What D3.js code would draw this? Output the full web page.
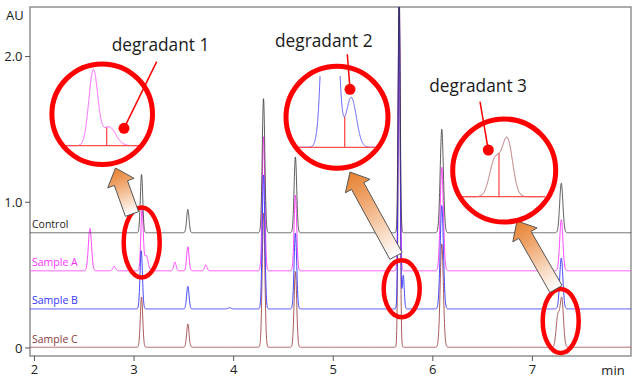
<!DOCTYPE html>
<html><head><meta charset="utf-8">
<script src="https://cdn.jsdelivr.net/npm/d3@7/dist/d3.min.js"></script>
<style>
html,body{margin:0;padding:0;background:#fff;}
svg{display:block;font-family:"Open Sans","Noto Sans",sans-serif;}
</style></head>
<body>
<svg id="chart" width="640" height="380"></svg>
<script>
// ---------------- DATA ----------------
const traceNames   = ["Control", "Sample A", "Sample B", "Sample C"];
const traceOffsets = [0.791, 0.53, 0.268, 0.005];           // AU baseline offsets
// peak tables: [retention time (min), height (AU), sigma (min)]
const controlPeaks = [[3.075,0.40,0.012],[3.54,0.16,0.012],[4.30,0.92,0.013],[4.62,0.52,0.013],
                      [5.662,1.70,0.010],[6.09,0.71,0.016],[7.29,0.34,0.016]];
const sampleAPeaks = [[2.557,0.29,0.016],[2.80,0.03,0.014],[3.08,0.42,0.012],[3.122,0.105,0.018],
                      [3.41,0.06,0.012],[3.54,0.165,0.012],[3.72,0.04,0.012],[4.30,0.92,0.013],
                      [4.62,0.52,0.013],[5.662,1.90,0.010],[6.09,0.71,0.016],[7.29,0.35,0.016]];
const sampleBPeaks = [[3.072,0.40,0.012],[3.54,0.155,0.012],[3.96,0.008,0.015],[4.30,0.92,0.013],
                      [4.62,0.52,0.013],[5.662,2.10,0.010],[5.703,0.23,0.010],[6.09,0.71,0.016],
                      [7.29,0.35,0.016]];
const sampleCPeaks = [[3.075,0.345,0.012],[3.54,0.16,0.012],[4.30,0.92,0.013],[4.62,0.52,0.013],
                      [5.662,2.30,0.010],[6.09,0.71,0.016],[7.255,0.21,0.017],[7.295,0.33,0.017]];
const tracePeaks   = [controlPeaks, sampleAPeaks, sampleBPeaks, sampleCPeaks];
const xTicks       = [2, 3, 4, 5, 6, 7];
const yTicks       = [0, 1, 2];
const yTickLabels  = ["0", "1.0", "2.0"];
const degradantLabels = ["degradant 1", "degradant 2", "degradant 3"];

// ---------------- STYLE / LAYOUT ----------------
const traceColors = ["#333333", "#ff33ff", "#3333ff", "#a04848"];
const labelColors = ["#222222", "#ff33ff", "#3333ff", "#8b3a3a"];
const RED = "#ff0000";
const svg = d3.select("#chart");
const x = d3.scaleLinear().domain([1.955, 7.99]).range([30, 631]);
const y = d3.scaleLinear().domain([-0.055, 2.34]).range([356, 7]);

function signal(peaks, t) {
  let s = 0;
  for (const [p, h, w] of peaks) { const d = t - p; s += h * Math.exp(-d * d / (2 * w * w)); }
  return s;
}

const defs = svg.append("defs");
defs.append("clipPath").attr("id", "plotClip").append("rect")
  .attr("x", 30).attr("y", 7).attr("width", 601).attr("height", 349);

// frame
svg.append("rect").attr("x", 30).attr("y", 7).attr("width", 601).attr("height", 349)
  .attr("fill", "none").attr("stroke", "#808080").attr("stroke-width", 1.3);

// axes ticks
const axG = svg.append("g").attr("font-size", 13).attr("fill", "#222");
yTicks.forEach((v, i) => {
  axG.append("line").attr("x1", 25).attr("x2", 30).attr("y1", y(v)).attr("y2", y(v))
    .attr("stroke", "#555").attr("stroke-width", 1);
  axG.append("text").attr("x", 22.5).attr("y", y(v)).attr("dy", "0.36em")
    .attr("text-anchor", "end").text(yTickLabels[i]);
});
xTicks.forEach(v => {
  axG.append("line").attr("x1", x(v)).attr("x2", x(v)).attr("y1", 356).attr("y2", 361)
    .attr("stroke", "#555").attr("stroke-width", 1);
  axG.append("text").attr("x", x(v)).attr("y", 374).attr("text-anchor", "middle").text(v);
});
axG.append("text").attr("x", 6).attr("y", 20).text("AU");
axG.append("text").attr("x", 613).attr("y", 375).attr("text-anchor", "middle").text("min");

// traces
const tGrid = d3.range(1.955, 7.99, 0.0015);
const line = d3.line().x(d => x(d[0])).y(d => y(d[1]));
const tracesG = svg.append("g").attr("clip-path", "url(#plotClip)");
const drawOrder = [3, 1, 2, 0];
drawOrder.forEach(i => {
  const pts = tGrid.map(t => [t, traceOffsets[i] + signal(tracePeaks[i], t)]);
  tracesG.append("path").attr("d", line(pts)).attr("fill", "none")
    .attr("stroke", traceColors[i]).attr("stroke-width", i === 0 ? 0.9 : 1)
    .attr("opacity", i === 0 ? 0.88 : 0.9);
});
// trace labels
traceNames.forEach((n, i) => {
  svg.append("text").attr("x", 32).attr("y", y(traceOffsets[i]) - 4.5)
    .attr("font-size", 10.5).attr("fill", labelColors[i]).text(n);
});

// ---------------- ANNOTATIONS ----------------
// ellipses around peaks in main plot
const ellipses = [[141.7, 242.5, 18, 35], [401.7, 288.8, 18, 28.5], [560.7, 321, 18, 32]];
ellipses.forEach(([cx, cy, rx, ry]) => {
  svg.append("ellipse").attr("cx", cx).attr("cy", cy).attr("rx", rx).attr("ry", ry)
    .attr("fill", "none").attr("stroke", RED).attr("stroke-width", 4.5);
});

// block arrows (tail -> tip)
const arrows = [[[132, 214], [115.5, 168]], [[396, 256], [350, 172]], [[556, 289], [517, 221]]];
arrows.forEach(([tail, tip], k) => {
  const dx = tip[0] - tail[0], dy = tip[1] - tail[1];
  const L = Math.hypot(dx, dy), ux = dx / L, uy = dy / L, px = -uy, py = ux;
  const HL = 16, HW = 14, SW = 7;
  const bx = tip[0] - ux * HL, by = tip[1] - uy * HL;
  const pts = [
    [tail[0] + px * SW, tail[1] + py * SW], [bx + px * SW, by + py * SW], [bx + px * HW, by + py * HW],
    tip, [bx - px * HW, by - py * HW], [bx - px * SW, by - py * SW], [tail[0] - px * SW, tail[1] - py * SW]
  ];
  const g = defs.append("linearGradient").attr("id", "ag" + k).attr("gradientUnits", "userSpaceOnUse")
    .attr("x1", tip[0]).attr("y1", tip[1]).attr("x2", tail[0]).attr("y2", tail[1]);
  g.append("stop").attr("offset", 0).attr("stop-color", "#e5802f");
  g.append("stop").attr("offset", 0.35).attr("stop-color", "#f0a870");
  g.append("stop").attr("offset", 1).attr("stop-color", "#ffffff");
  svg.append("path").attr("d", "M" + pts.map(p => p.join(",")).join("L") + "Z")
    .attr("fill", "url(#ag" + k + ")").attr("stroke", "#555").attr("stroke-width", 1);
});

// insets (magnified views of the circled peaks)
const insets = [
  {trace: 1, tc: 3.08,  cx: 93.3,  kx: 375, ky: 178.6, baseY: 145.7, x0: 64,    x1: 141.7, top: 60,
   dropX: 106.7, circle: [102.2, 114.2, 50.3], dot: [124, 128.3], ptr: [156.7, 61.7], lab: [111.7, 50.5]},
  {trace: 2, tc: 5.662, cx: 330,   kx: 517, ky: 217,   baseY: 147.3, x0: 296,   x1: 378.3, top: 76,
   dropX: 344.7, circle: [337, 117.2, 51],     dot: [350, 89.3],  ptr: [347.3, 54.3], lab: [275, 46.5]},
  {trace: 3, tc: 7.295, cx: 507.3, kx: 312, ky: 173,   baseY: 196.7, x0: 461.7, x1: 545,   top: 100,
   dropX: 499,   circle: [504.2, 170.5, 51.5], dot: [488.3, 150], ptr: [480, 101.7], lab: [429.3, 92]}
];
insets.forEach((ins, k) => {
  const peaks = tracePeaks[ins.trace];
  const ix = d3.scaleLinear().domain([ins.tc, ins.tc + 1]).range([ins.cx, ins.cx + ins.kx]);
  const iy = d3.scaleLinear().domain([0, 1]).range([ins.baseY, ins.baseY - ins.ky]);
  defs.append("clipPath").attr("id", "ic" + k).append("rect")
    .attr("x", ins.x0).attr("y", ins.top).attr("width", ins.x1 - ins.x0).attr("height", ins.baseY - ins.top + 2);
  const ts = d3.range(ix.invert(ins.x0), ix.invert(ins.x1), 0.0002);
  const pts = ts.map(t => [t, signal(peaks, t)]);
  const il = d3.line().x(d => ix(d[0])).y(d => iy(d[1]));
  svg.append("path").attr("d", il(pts)).attr("fill", "none").attr("clip-path", "url(#ic" + k + ")")
    .attr("stroke", traceColors[ins.trace]).attr("stroke-width", 1).attr("opacity", 0.75);
  // integration baseline and drop line
  svg.append("line").attr("x1", ins.x0).attr("x2", ins.x1).attr("y1", ins.baseY).attr("y2", ins.baseY)
    .attr("stroke", "#ff5050").attr("stroke-width", 1.3);
  const td = ix.invert(ins.dropX);
  svg.append("line").attr("x1", ins.dropX).attr("x2", ins.dropX).attr("y1", ins.baseY).attr("y2", iy(signal(peaks, td)))
    .attr("stroke", "#ff4040").attr("stroke-width", 1.2);
  // circle
  svg.append("circle").attr("cx", ins.circle[0]).attr("cy", ins.circle[1]).attr("r", ins.circle[2])
    .attr("fill", "none").attr("stroke", RED).attr("stroke-width", 5);
  // pointer + dot
  svg.append("line").attr("x1", ins.dot[0]).attr("y1", ins.dot[1]).attr("x2", ins.ptr[0]).attr("y2", ins.ptr[1])
    .attr("stroke", RED).attr("stroke-width", 1.5);
  svg.append("circle").attr("cx", ins.dot[0]).attr("cy", ins.dot[1]).attr("r", 5.5).attr("fill", RED);
  svg.append("text").attr("x", ins.lab[0]).attr("y", ins.lab[1]).attr("font-size", 17.3)
    .attr("fill", "#1a1a1a").text(degradantLabels[k]);
});
</script>
</body></html>
